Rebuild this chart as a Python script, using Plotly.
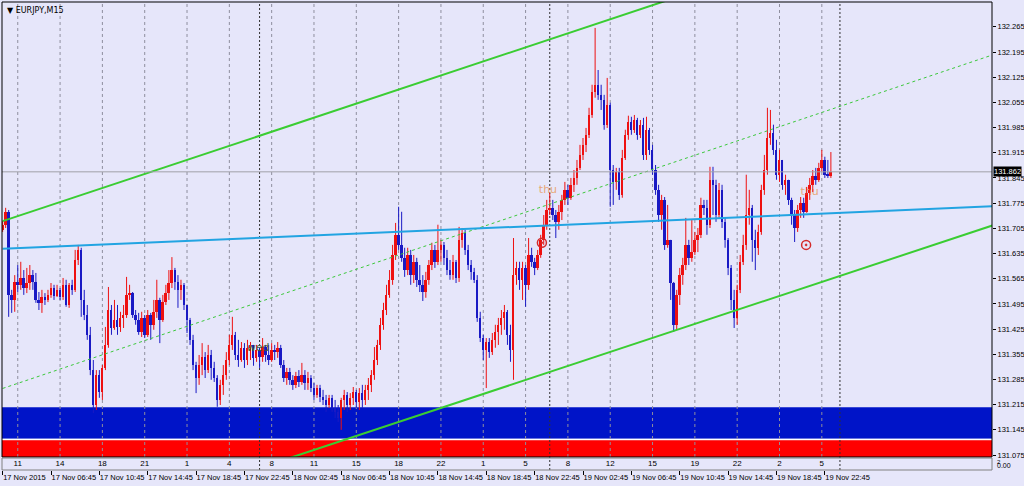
import plotly.graph_objects as go

# ---------------- data (EURJPY M15) ----------------
first_open = 131.700
closes = [
131.715,
131.751,131.520,131.506,131.556,131.548,131.567,131.539,131.553,131.575,131.556,
131.506,131.498,131.514,131.506,131.520,131.539,131.517,131.534,131.514,131.548,
131.492,131.548,131.534,131.617,131.645,131.506,131.464,131.409,131.311,131.214,
131.297,131.250,131.317,131.381,131.478,131.428,131.450,131.431,131.456,131.464,
131.520,131.525,131.464,131.450,131.417,131.456,131.409,131.464,131.437,131.473,
131.506,131.450,131.500,131.525,131.553,131.589,131.556,131.534,131.548,131.492,
131.450,131.395,131.325,131.289,131.325,131.348,131.311,131.353,131.317,131.289,
131.228,131.270,131.297,131.339,131.381,131.409,131.353,131.339,131.373,131.339,
131.373,131.381,131.345,131.367,131.348,131.375,131.353,131.339,131.367,131.361,
131.373,131.325,131.289,131.306,131.284,131.270,131.295,131.278,131.297,131.275,
131.289,131.261,131.242,131.261,131.236,131.228,131.214,131.234,131.206,131.195,
131.178,131.228,131.242,131.214,131.234,131.250,131.222,131.247,131.228,131.256,
131.270,131.297,131.339,131.381,131.437,131.478,131.520,131.562,131.631,131.687,
131.659,131.623,131.589,131.631,131.575,131.612,131.562,131.548,131.528,131.562,
131.603,131.645,131.612,131.645,131.659,131.623,131.589,131.575,131.612,131.567,
131.673,131.692,131.645,131.603,131.584,131.562,131.456,131.400,131.367,131.389,
131.361,131.395,131.417,131.437,131.456,131.473,131.409,131.367,131.575,131.595,
131.562,131.595,131.548,131.631,131.612,131.595,131.631,131.673,131.715,131.756,
131.762,131.742,131.723,131.751,131.784,131.812,131.790,131.826,131.845,131.873,
131.909,131.937,131.965,132.020,132.084,132.104,132.076,132.062,131.993,132.048,
131.867,131.834,131.862,131.798,131.901,131.965,132.001,131.979,132.006,131.965,
131.993,131.909,131.979,131.923,131.867,131.812,131.742,131.784,131.659,131.673,
131.553,131.437,131.520,131.575,131.603,131.659,131.623,131.639,131.673,131.687,
131.770,131.762,131.715,131.840,131.826,131.742,131.812,131.723,131.673,131.595,
131.506,131.456,131.534,131.612,131.659,131.742,131.762,131.673,131.651,131.695,
131.812,131.867,131.956,131.970,131.923,131.854,131.895,131.826,131.840,131.784,
131.742,131.706,131.756,131.776,131.751,131.803,131.826,131.851,131.840,131.873,131.895,
131.854,131.851,131.862]

highs = [
131.725,
131.762,131.756,131.534,131.575,131.603,131.612,131.589,131.595,131.603,131.589,
131.581,131.528,131.534,131.525,131.534,131.553,131.548,131.548,131.539,131.567,
131.562,131.553,131.562,131.645,131.659,131.651,131.534,131.492,131.431,131.339,
131.311,131.311,131.325,131.431,131.542,131.492,131.506,131.492,131.473,131.492,
131.570,131.548,131.528,131.478,131.470,131.473,131.464,131.478,131.470,131.506,
131.562,131.512,131.520,131.548,131.589,131.625,131.595,131.575,131.562,131.553,
131.492,131.456,131.409,131.334,131.353,131.386,131.361,131.381,131.367,131.334,
131.297,131.284,131.325,131.361,131.409,131.459,131.417,131.395,131.389,131.386,
131.395,131.389,131.381,131.381,131.373,131.400,131.381,131.381,131.386,131.381,
131.389,131.381,131.339,131.317,131.317,131.297,131.306,131.311,131.331,131.311,
131.306,131.297,131.275,131.270,131.270,131.256,131.242,131.242,131.242,131.228,
131.214,131.234,131.256,131.250,131.247,131.264,131.256,131.261,131.270,131.270,
131.289,131.311,131.375,131.395,131.456,131.498,131.548,131.589,131.659,131.720,
131.765,131.751,131.651,131.651,131.645,131.631,131.623,131.603,131.575,131.584,
131.617,131.665,131.659,131.715,131.673,131.667,131.645,131.617,131.631,131.617,
131.709,131.706,131.701,131.659,131.617,131.595,131.575,131.473,131.409,131.400,
131.400,131.414,131.437,131.456,131.478,131.492,131.478,131.437,131.678,131.612,
131.612,131.612,131.603,131.678,131.651,131.623,131.645,131.687,131.742,131.784,
131.803,131.784,131.756,131.770,131.798,131.834,131.826,131.845,131.867,131.895,
131.937,131.956,131.984,132.040,132.104,132.262,132.145,132.104,132.076,132.123,
132.054,131.881,131.873,131.873,131.923,131.979,132.018,132.015,132.020,132.012,
132.006,132.012,132.015,131.984,131.937,131.881,131.826,131.798,131.792,131.770,
131.673,131.556,131.534,131.595,131.623,131.734,131.673,131.728,131.695,131.706,
131.790,131.784,131.784,131.876,131.876,131.840,131.831,131.826,131.734,131.678,
131.603,131.534,131.548,131.631,131.687,131.854,131.812,131.770,131.701,131.715,
131.826,131.909,132.040,132.034,131.993,131.951,131.923,131.895,131.854,131.840,
131.790,131.756,131.770,131.792,131.790,131.820,131.845,131.867,131.873,131.887,131.923,
131.904,131.895,131.917]

lows = [
131.695,
131.706,131.459,131.470,131.473,131.528,131.534,131.520,131.525,131.534,131.534,
131.498,131.478,131.470,131.492,131.500,131.512,131.506,131.514,131.506,131.506,
131.487,131.484,131.520,131.528,131.603,131.459,131.450,131.395,131.297,131.192,
131.200,131.234,131.228,131.311,131.373,131.409,131.423,131.409,131.417,131.428,
131.456,131.506,131.456,131.437,131.409,131.403,131.400,131.403,131.395,131.423,
131.456,131.386,131.445,131.492,131.506,131.539,131.534,131.484,131.506,131.478,
131.414,131.381,131.311,131.247,131.270,131.297,131.289,131.303,131.284,131.278,
131.209,131.214,131.242,131.284,131.325,131.367,131.339,131.320,131.334,131.317,
131.325,131.339,131.323,131.334,131.317,131.334,131.334,131.325,131.334,131.339,
131.345,131.317,131.278,131.270,131.270,131.256,131.261,131.264,131.270,131.256,
131.256,131.250,131.228,131.234,131.222,131.214,131.195,131.206,131.195,131.178,
131.167,131.145,131.200,131.195,131.200,131.214,131.206,131.200,131.206,131.214,
131.228,131.250,131.284,131.325,131.367,131.423,131.464,131.512,131.548,131.617,
131.645,131.612,131.570,131.575,131.548,131.553,131.542,131.528,131.503,131.512,
131.548,131.589,131.595,131.603,131.612,131.603,131.575,131.562,131.562,131.553,
131.556,131.651,131.631,131.589,131.562,131.553,131.445,131.389,131.339,131.261,
131.345,131.353,131.373,131.381,131.409,131.423,131.381,131.334,131.284,131.548,
131.534,131.506,131.487,131.534,131.598,131.575,131.589,131.623,131.659,131.701,
131.742,131.728,131.678,131.701,131.728,131.770,131.770,131.784,131.806,131.826,
131.867,131.895,131.917,131.956,132.012,132.068,132.062,132.034,131.979,131.984,
131.765,131.770,131.812,131.784,131.790,131.895,131.951,131.965,131.970,131.951,
131.956,131.895,131.895,131.909,131.854,131.798,131.723,131.701,131.645,131.651,
131.506,131.417,131.423,131.492,131.548,131.589,131.603,131.612,131.631,131.639,
131.678,131.742,131.687,131.706,131.742,131.723,131.734,131.706,131.651,131.575,
131.478,131.428,131.437,131.525,131.603,131.645,131.715,131.612,131.589,131.631,
131.687,131.798,131.854,131.937,131.909,131.840,131.834,131.812,131.798,131.770,
131.715,131.667,131.695,131.734,131.734,131.748,131.784,131.806,131.826,131.834,131.862,
131.845,131.845,131.845]

date_tick_bars = [0, 16, 32, 48, 64, 80, 96, 112, 128, 144, 160, 176, 192, 208, 224, 240, 256, 272]
date_tick_text = ["17 Nov 2015", "17 Nov 06:45", "17 Nov 10:45", "17 Nov 14:45", "17 Nov 18:45",
                  "17 Nov 22:45", "18 Nov 02:45", "18 Nov 06:45", "18 Nov 10:45", "18 Nov 14:45",
                  "18 Nov 18:45", "18 Nov 22:45", "19 Nov 02:45", "19 Nov 06:45", "19 Nov 10:45",
                  "19 Nov 14:45", "19 Nov 18:45", "19 Nov 22:45"]
hour_bars = [5, 19, 33, 47, 61, 75, 89, 103, 117, 131, 145, 159, 173, 187, 201, 215, 229, 243, 257, 271]
hour_labels = ["11", "14", "18", "21", "1", "4", "8", "11", "15", "18",
               "22", "1", "5", "8", "12", "15", "19", "22", "2", "5"]
day_separator_bars = [85, 181, 277]
price_ticks = [131.075, 131.145, 131.215, 131.285, 131.355, 131.425, 131.495, 131.565, 131.635,
               131.705, 131.775, 131.845, 131.915, 131.985, 132.055, 132.125, 132.195, 132.265]
last_price = 131.862

# chart objects (anchor points: bar index, price)
upper_channel = ([0, 230], [131.725, 132.367])
lower_channel = ([90, 330], [131.053, 131.720])
middle_dashed = ([0, 330], [131.260, 132.194])
cyan_line = ([0, 330], [131.648, 131.767])
blue_zone = (131.120, 131.208)
gap_zone = (131.116, 131.120)
red_zone = (131.060, 131.116)
back_labels = [(180.4, 131.812, "thu", "#E8A878"), (267.0, 131.806, "thu", "#E8A878")]
front_labels = [(84.5, 131.373, "wed", "#3E5E3E")]
circle_marks = ([178.4, 265.8], [131.665, 131.659])

# ---------------- figure ----------------
BG = "#E6E6FA"
UP = "#EE1111"
DN = "#1A1AC4"
n = min(len(closes), len(highs), len(lows))
opens = [first_open] + closes[:n - 1]

fig = go.Figure()

# day labels (behind candles)
fig.add_trace(go.Scatter(x=[d[0] for d in back_labels], y=[d[1] for d in back_labels],
                         text=[d[2] for d in back_labels], mode="text",
                         textfont=dict(size=11, color=[d[3] for d in back_labels],
                                       family="DejaVu Sans"),
                         xaxis="x", yaxis="y", showlegend=False, hoverinfo="skip"))

for is_up, col in ((True, UP), (False, DN)):
    wx, wy, bx, bb, bh = [], [], [], [], []
    for j in range(n):
        o, c = opens[j], closes[j]
        if (c >= o) != is_up:
            continue
        wx += [j, j, None]
        wy += [lows[j], highs[j], None]
        bx.append(j)
        bb.append(min(o, c))
        bh.append(max(abs(c - o), 0.0008))
    fig.add_trace(go.Scatter(x=wx, y=wy, mode="lines", line=dict(color=col, width=1),
                             showlegend=False, hoverinfo="skip", xaxis="x", yaxis="y"))
    fig.add_trace(go.Bar(x=bx, y=bh, base=bb, width=0.62, marker=dict(color=col, line=dict(width=0)),
                         showlegend=False, hoverinfo="skip", xaxis="x", yaxis="y"))

# day label drawn over candles
fig.add_trace(go.Scatter(x=[d[0] for d in front_labels], y=[d[1] for d in front_labels],
                         text=[d[2] for d in front_labels], mode="text",
                         textfont=dict(size=11, color=[d[3] for d in front_labels],
                                       family="DejaVu Sans"),
                         xaxis="x", yaxis="y", showlegend=False, hoverinfo="skip"))

# trend lines
fig.add_trace(go.Scatter(x=middle_dashed[0], y=middle_dashed[1], mode="lines",
                         line=dict(color="#3CC83C", width=1, dash="3px,3px"),
                         showlegend=False, hoverinfo="skip"))
fig.add_trace(go.Scatter(x=cyan_line[0], y=cyan_line[1], mode="lines",
                         line=dict(color="#22A4E2", width=2), showlegend=False, hoverinfo="skip"))
for ln in (upper_channel, lower_channel):
    fig.add_trace(go.Scatter(x=ln[0], y=ln[1], mode="lines",
                             line=dict(color="#3ACD32", width=2), showlegend=False, hoverinfo="skip"))
# current price line
fig.add_trace(go.Scatter(x=[-5, 400], y=[last_price, last_price], mode="lines",
                         line=dict(color="#A0A0A8", width=1), showlegend=False, hoverinfo="skip"))
# circle markers
fig.add_trace(go.Scatter(x=circle_marks[0], y=circle_marks[1], mode="markers",
                         marker=dict(symbol="circle-open-dot", size=9, color="#D42A2A",
                                     line=dict(width=1.5, color="#D42A2A")),
                         showlegend=False, hoverinfo="skip"))
# hour labels in sub window
fig.add_trace(go.Scatter(x=hour_bars, y=[0.5] * len(hour_bars), text=hour_labels, mode="text",
                         textfont=dict(size=8, color="black"), xaxis="x", yaxis="y2",
                         showlegend=False, hoverinfo="skip", cliponaxis=False))

shapes = [
    dict(type="rect", xref="x domain", x0=0, x1=1, yref="y", y0=blue_zone[0], y1=blue_zone[1],
         fillcolor="#0014C8", line=dict(width=0), layer="below"),
    dict(type="rect", xref="x domain", x0=0, x1=1, yref="y", y0=gap_zone[0], y1=gap_zone[1],
         fillcolor="#FFFFFF", line=dict(width=0), layer="below"),
    dict(type="rect", xref="x domain", x0=0, x1=1, yref="y", y0=red_zone[0], y1=red_zone[1],
         fillcolor="#FF0000", line=dict(width=0), layer="below"),
]
for hb in hour_bars:
    shapes.append(dict(type="line", xref="x", x0=hb, x1=hb, yref="y domain", y0=0, y1=1,
                       line=dict(color="#8E8E9E", width=1, dash="3px,3px"), layer="below"))
for db in day_separator_bars:
    shapes.append(dict(type="line", xref="x", x0=db, x1=db, yref="paper", y0=0, y1=1,
                       line=dict(color="#303030", width=1, dash="2px,2px"), layer="below"))
shapes.append(dict(type="rect", xref="x domain", x0=0, x1=1, yref="y domain", y0=0, y1=1,
                   line=dict(color="black", width=1), fillcolor="rgba(0,0,0,0)"))
shapes.append(dict(type="rect", xref="x domain", x0=0, x1=1, yref="y2 domain", y0=0, y1=1,
                   line=dict(color="#808080", width=1), fillcolor="rgba(0,0,0,0)"))

annotations = [
    dict(text="▼ EURJPY,M15", xref="paper", x=0, xanchor="left", xshift=3,
         yref="paper", y=1, yanchor="top", yshift=-2, showarrow=False,
         font=dict(size=8, color="black", family="DejaVu Sans")),
    dict(text="131.862", xref="paper", x=1, xanchor="left", xshift=1, yref="y", y=last_price,
         yanchor="middle", showarrow=False, bgcolor="black", borderpad=0,
         font=dict(size=7.5, color="white")),
    dict(text="2", xref="paper", x=1, xanchor="left", xshift=3, yref="y2 domain", y=1.1,
         yanchor="top", showarrow=False, font=dict(size=6, color="black")),
    dict(text="0.00", xref="paper", x=1, xanchor="left", xshift=3, yref="y2 domain", y=-0.1,
         yanchor="bottom", showarrow=False, font=dict(size=7, color="black")),
]

fig.update_layout(
    width=1024, height=486,
    margin=dict(l=2, r=32, t=2, b=16, autoexpand=False),
    paper_bgcolor=BG, plot_bgcolor=BG,
    font=dict(family="Liberation Sans", size=8, color="black"),
    barmode="overlay", bargap=0, hovermode=False, showlegend=False,
    xaxis=dict(domain=[0, 1], range=[-0.21, 327.3], anchor="y2",
               tickmode="array", tickvals=date_tick_bars, ticktext=date_tick_text,
               ticks="outside", ticklen=4, tickcolor="black", tickwidth=1, tickangle=0,
               ticklabelposition="outside right", tickfont=dict(size=7.5),
               showgrid=False, zeroline=False, showline=False, fixedrange=True),
    yaxis=dict(domain=[0.0278, 1], range=[131.0695, 132.334], anchor="x", side="right",
               tickmode="array", tickvals=price_ticks,
               ticktext=["%.3f" % v for v in price_ticks],
               ticks="outside", ticklen=3, tickcolor="black", tickfont=dict(size=7.5),
               showgrid=False, zeroline=False, showline=False),
    yaxis2=dict(domain=[0, 0.0256], range=[0, 1], anchor="x", showticklabels=False,
                showgrid=False, zeroline=False, ticks=""),
    shapes=shapes, annotations=annotations,
)

fig.write_html("out.html", config={"displayModeBar": False},
               post_script="document.body.style.margin='0px';document.body.style.background='#E6E6FA';")
